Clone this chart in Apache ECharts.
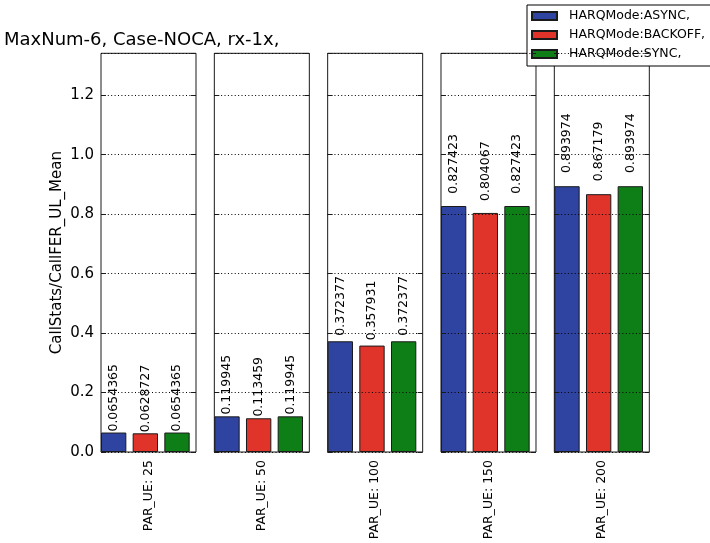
<!DOCTYPE html>
<html>
<head>
<meta charset="utf-8">
<script src="https://cdn.jsdelivr.net/npm/echarts@6/dist/echarts.min.js"></script>
<style>
  html, body { margin: 0; padding: 0; background: #fff; }
  #chart { width: 710px; height: 543px; }
</style>
</head>
<body>
<div id="chart"></div>
<script>
// Panel categories (one small panel per PAR_UE setting)
const categories = ['PAR_UE: 25', 'PAR_UE: 50', 'PAR_UE: 100', 'PAR_UE: 150', 'PAR_UE: 200'];
// Series names
const modes = ['HARQMode:ASYNC,', 'HARQMode:BACKOFF,', 'HARQMode:SYNC,'];
// Mean UL call FER per mode, one value per panel
const asyncVals   = [0.0654365, 0.119945, 0.372377, 0.827423, 0.893974];
const backoffVals = [0.0628727, 0.113459, 0.357931, 0.804067, 0.867179];
const syncVals    = [0.0654365, 0.119945, 0.372377, 0.827423, 0.893974];
// Value axis range and tick step
const yMin = 0;
const yMax = 1.341;
const yStep = 0.2;

const seriesVals = [asyncVals, backoffVals, syncVals];
const colors = ['#2F43A0', '#E0342A', '#0E7F16'];
const FONT = 'DejaVu Sans';

const panelLeft = 101, panelStep = 113.33, panelWidth = 95;
const panelTop = 53.3, panelHeight = 398.7;

const grid = [], xAxis = [], yAxis = [], series = [];

categories.forEach((cat, p) => {
  grid.push({
    left: panelLeft + p * panelStep,
    top: panelTop,
    width: panelWidth,
    height: panelHeight,
    show: true,
    borderColor: '#1a1a1a',
    borderWidth: 1,
    backgroundColor: 'transparent',
    containLabel: false,
    outerBoundsMode: 'none'
  });
  xAxis.push({
    type: 'value',
    gridIndex: p,
    min: 0,
    max: modes.length,
    axisLine: { show: false },
    axisTick: { show: false },
    axisLabel: { show: false },
    splitLine: { show: false },
    name: cat,
    nameLocation: 'middle',
    nameRotate: 90,
    nameGap: 8,
    nameTextStyle: { fontFamily: FONT, fontSize: 12.5, color: '#000' }
  });
  const yCommon = {
    type: 'value',
    gridIndex: p,
    min: yMin,
    max: yMax,
    interval: yStep,
    axisLine: { show: false },
    axisTick: { show: true, inside: true, length: 5, lineStyle: { color: '#1a1a1a', width: 1 } }
  };
  yAxis.push(Object.assign({}, yCommon, {
    position: 'left',
    z: 5,
    axisLabel: {
      show: p === 0,
      showMaxLabel: false,
      fontFamily: FONT,
      fontSize: 15,
      color: '#000',
      margin: 7,
      formatter: v => v.toFixed(1)
    },
    splitLine: { show: true, lineStyle: { color: '#000', width: 1, type: [1, 2.4] } },
    name: p === 0 ? 'CallStats/CallFER_UL_Mean' : '',
    nameLocation: 'middle',
    nameGap: 36,
    nameTextStyle: { fontFamily: FONT, fontSize: 15, color: '#000' }
  }));
  yAxis.push(Object.assign({}, yCommon, {
    position: 'right',
    z: 5,
    axisLabel: { show: false },
    splitLine: { show: false }
  }));

  modes.forEach((mode, m) => {
    series.push({
      type: 'bar',
      name: mode,
      xAxisIndex: p,
      yAxisIndex: 2 * p,
      barWidth: '80%',
      barGap: '-100%',
      data: [[m + 0.4, seriesVals[m][p]]],
      itemStyle: { color: colors[m], borderColor: '#1a1a1a', borderWidth: 1 },
      label: {
        show: true,
        position: ['50%', '-5%'],
        rotate: 90,
        align: 'left',
        verticalAlign: 'middle',
        fontFamily: FONT,
        fontSize: 12.5,
        color: '#000',
        formatter: d => String(d.value[1])
      },
      emphasis: { disabled: true },
      animation: false
    });
  });
});

const chart = echarts.init(document.getElementById('chart'), null, { renderer: 'canvas' });
chart.setOption({
  backgroundColor: '#fff',
  animation: false,
  textStyle: { fontFamily: FONT },
  title: {
    text: 'MaxNum-6, Case-NOCA, rx-1x,',
    left: 4,
    top: 31,
    padding: 0,
    textStyle: { fontFamily: FONT, fontSize: 18, fontWeight: 'normal', color: '#000' }
  },
  legend: {
    data: modes,
    orient: 'vertical',
    left: 527,
    top: 5,
    padding: [4, 6, 5, 4],
    itemGap: 5,
    itemWidth: 25,
    itemHeight: 8,
    icon: 'rect',
    borderColor: '#000',
    borderWidth: 1,
    borderRadius: 0,
    backgroundColor: '#fff',
    selectedMode: false,
    textStyle: { fontFamily: FONT, fontSize: 12.5, color: '#000', padding: [0, 0, 0, 7], lineHeight: 14, height: 14 }
  },
  grid, xAxis, yAxis, series
});
</script>
</body>
</html>
